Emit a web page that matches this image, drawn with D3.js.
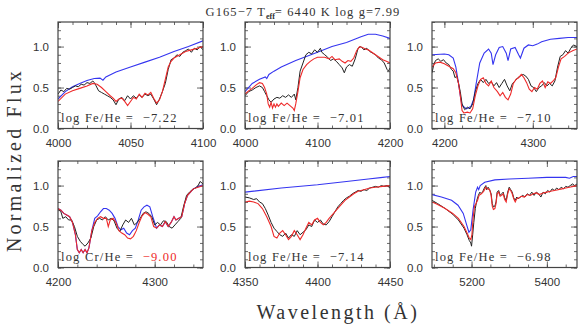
<!DOCTYPE html>
<html>
<head>
<meta charset="utf-8">
<script src="https://cdn.jsdelivr.net/npm/d3@7"></script>
<style>
body { margin: 0; background: #fff; }
svg { display: block; }
.tick text { font-family: "Liberation Sans", Arial, sans-serif; font-size: 11.5px; fill: #333; }
</style>
</head>
<body>
<svg width="580" height="326"></svg>
<script>
// observed (black), fitted model (red), model without metals (blue): [wavelength, flux]
var p1Obs = [[4000,0.42],[4002,0.47],[4004,0.45],[4006,0.49],[4008,0.48],[4010,0.50],[4012,0.52],[4014,0.51],[4016,0.54],[4018,0.53],[4020,0.56],[4022,0.55],[4024,0.58],[4025,0.56],[4026,0.53],[4028,0.46],[4030,0.44],[4032,0.42],[4034,0.40],[4036,0.38],[4038,0.35],[4040,0.29],[4042,0.36],[4044,0.38],[4046,0.34],[4048,0.40],[4050,0.36],[4052,0.40],[4054,0.37],[4056,0.41],[4058,0.38],[4060,0.42],[4062,0.40],[4064,0.42],[4066,0.36],[4068,0.29],[4070,0.36],[4072,0.45],[4074,0.55],[4076,0.72],[4078,0.84],[4080,0.86],[4082,0.90],[4084,0.88],[4086,0.93],[4088,0.95],[4090,0.97],[4092,0.93],[4094,0.98],[4096,0.96],[4098,1.00],[4100,0.96]];
var p1Fit = [[4000,0.33],[4005,0.42],[4010,0.46],[4015,0.49],[4020,0.52],[4024,0.55],[4027,0.54],[4030,0.50],[4033,0.45],[4036,0.40],[4038,0.37],[4040,0.33],[4042,0.36],[4044,0.37],[4046,0.33],[4048,0.28],[4050,0.33],[4052,0.38],[4054,0.36],[4056,0.42],[4058,0.38],[4060,0.43],[4062,0.41],[4064,0.44],[4066,0.37],[4068,0.31],[4070,0.35],[4072,0.45],[4074,0.60],[4076,0.75],[4078,0.82],[4080,0.86],[4084,0.90],[4088,0.94],[4092,0.96],[4096,0.98],[4100,1.00]];
var p1Bare = [[4000,0.36],[4005,0.45],[4010,0.51],[4015,0.55],[4020,0.585],[4025,0.61],[4029,0.615],[4031,0.59],[4033,0.63],[4040,0.69],[4050,0.75],[4060,0.81],[4070,0.87],[4080,0.94],[4090,1.00],[4100,1.07]];

var p2Obs = [[4000,0.40],[4005,0.45],[4010,0.47],[4015,0.50],[4020,0.52],[4024,0.50],[4027,0.45],[4030,0.40],[4033,0.35],[4036,0.32],[4040,0.36],[4044,0.38],[4048,0.37],[4052,0.40],[4056,0.38],[4060,0.41],[4064,0.38],[4068,0.42],[4070,0.35],[4073,0.50],[4076,0.70],[4080,0.80],[4084,0.90],[4088,0.93],[4092,0.91],[4096,0.96],[4100,0.93],[4104,0.98],[4106,0.93],[4110,0.90],[4114,0.87],[4118,0.83],[4122,0.85],[4126,0.82],[4130,0.78],[4134,0.74],[4137,0.68],[4140,0.75],[4144,0.78],[4148,0.76],[4152,0.85],[4156,0.98],[4160,1.00],[4164,0.96],[4168,0.98],[4172,0.94],[4176,0.92],[4180,0.90],[4184,0.86],[4188,0.84],[4192,0.80],[4196,0.72],[4198,0.70],[4200,0.74]];
var p2Fit = [[4000,0.42],[4005,0.46],[4010,0.49],[4015,0.53],[4020,0.56],[4024,0.55],[4027,0.50],[4030,0.42],[4032,0.30],[4034,0.26],[4036,0.32],[4038,0.25],[4040,0.30],[4042,0.26],[4044,0.30],[4046,0.27],[4050,0.31],[4054,0.28],[4058,0.31],[4062,0.28],[4066,0.25],[4068,0.22],[4070,0.30],[4073,0.45],[4076,0.62],[4080,0.72],[4085,0.78],[4090,0.82],[4095,0.85],[4100,0.87],[4110,0.87],[4116,0.85],[4120,0.88],[4124,0.84],[4130,0.85],[4134,0.82],[4138,0.80],[4142,0.83],[4146,0.82],[4150,0.86],[4154,0.95],[4158,1.00],[4162,0.99],[4166,0.97],[4170,0.96],[4175,0.93],[4180,0.90],[4185,0.87],[4190,0.84],[4195,0.82],[4200,0.80]];
var p2Bare = [[4000,0.45],[4010,0.55],[4020,0.60],[4028,0.63],[4030,0.61],[4033,0.66],[4040,0.70],[4050,0.75],[4070,0.83],[4100,0.93],[4120,1.00],[4140,1.05],[4160,1.12],[4170,1.15],[4180,1.15],[4190,1.13],[4200,1.10]];

var p3Obs = [[4186,0.68],[4188,0.78],[4190,0.83],[4193,0.85],[4196,0.82],[4199,0.84],[4202,0.80],[4205,0.78],[4208,0.72],[4210,0.70],[4212,0.62],[4214,0.64],[4216,0.55],[4218,0.45],[4220,0.30],[4223,0.23],[4226,0.26],[4229,0.24],[4232,0.30],[4235,0.45],[4238,0.55],[4241,0.60],[4244,0.56],[4247,0.60],[4250,0.55],[4253,0.57],[4256,0.52],[4259,0.56],[4262,0.50],[4265,0.55],[4268,0.60],[4271,0.52],[4274,0.46],[4277,0.55],[4280,0.58],[4283,0.62],[4286,0.64],[4289,0.66],[4292,0.64],[4295,0.60],[4298,0.52],[4301,0.50],[4304,0.45],[4307,0.50],[4310,0.52],[4313,0.56],[4316,0.52],[4319,0.55],[4322,0.52],[4325,0.58],[4328,0.75],[4331,0.88],[4334,0.90],[4337,0.95],[4340,0.92],[4343,0.98],[4346,1.02],[4350,1.00]];
var p3Fit = [[4186,0.75],[4190,0.80],[4195,0.81],[4200,0.79],[4205,0.76],[4210,0.73],[4213,0.68],[4216,0.55],[4218,0.40],[4220,0.22],[4222,0.19],[4226,0.20],[4229,0.19],[4232,0.24],[4235,0.40],[4238,0.52],[4241,0.60],[4244,0.62],[4247,0.55],[4250,0.52],[4253,0.58],[4256,0.50],[4260,0.45],[4263,0.40],[4266,0.44],[4269,0.38],[4272,0.35],[4275,0.42],[4278,0.55],[4281,0.60],[4284,0.62],[4287,0.66],[4290,0.62],[4293,0.56],[4296,0.48],[4299,0.45],[4302,0.50],[4305,0.48],[4308,0.55],[4311,0.58],[4314,0.50],[4317,0.57],[4320,0.55],[4323,0.58],[4326,0.62],[4329,0.75],[4332,0.85],[4336,0.88],[4340,0.92],[4345,0.95],[4350,0.97]];
var p3Bare = [[4186,0.90],[4200,0.91],[4205,0.90],[4210,0.86],[4213,0.75],[4216,0.55],[4218,0.40],[4220,0.28],[4225,0.24],[4230,0.27],[4233,0.35],[4236,0.55],[4240,0.80],[4245,0.92],[4250,0.97],[4253,0.92],[4255,0.78],[4258,0.90],[4262,0.99],[4266,1.00],[4270,0.92],[4272,0.83],[4275,0.97],[4280,0.99],[4284,0.90],[4286,0.86],[4290,0.98],[4295,1.02],[4300,1.01],[4305,1.03],[4310,1.06],[4320,1.09],[4330,1.10],[4340,1.11],[4350,1.11]];

var p4Obs = [[4200,0.72],[4203,0.68],[4205,0.60],[4208,0.62],[4211,0.58],[4214,0.58],[4217,0.50],[4220,0.38],[4223,0.32],[4226,0.28],[4228,0.26],[4231,0.30],[4234,0.36],[4237,0.50],[4240,0.58],[4243,0.60],[4246,0.58],[4249,0.62],[4252,0.58],[4255,0.60],[4258,0.57],[4261,0.48],[4264,0.44],[4267,0.52],[4270,0.58],[4273,0.55],[4276,0.60],[4279,0.52],[4282,0.55],[4285,0.60],[4288,0.66],[4291,0.68],[4294,0.66],[4297,0.62],[4300,0.52],[4303,0.55],[4306,0.52],[4309,0.57],[4312,0.56],[4315,0.50],[4318,0.48],[4321,0.52],[4324,0.56],[4327,0.60],[4330,0.75],[4333,0.88],[4336,0.92],[4339,0.95],[4342,0.97],[4345,1.00],[4347,1.05],[4350,1.02]];
var p4Fit = [[4200,0.72],[4203,0.70],[4206,0.66],[4209,0.64],[4212,0.62],[4215,0.55],[4218,0.40],[4220,0.22],[4222,0.18],[4224,0.22],[4226,0.18],[4228,0.22],[4230,0.18],[4232,0.24],[4235,0.45],[4238,0.55],[4241,0.60],[4244,0.62],[4247,0.60],[4250,0.60],[4252,0.50],[4254,0.58],[4257,0.60],[4260,0.55],[4263,0.45],[4266,0.42],[4269,0.40],[4272,0.36],[4275,0.35],[4278,0.38],[4281,0.45],[4284,0.55],[4287,0.63],[4290,0.67],[4293,0.65],[4296,0.62],[4299,0.50],[4302,0.48],[4305,0.52],[4308,0.50],[4311,0.56],[4314,0.50],[4317,0.55],[4320,0.62],[4322,0.58],[4325,0.60],[4328,0.62],[4331,0.78],[4334,0.88],[4337,0.92],[4340,0.96],[4345,0.98],[4350,1.00]];
var p4Bare = [[4200,0.72],[4203,0.70],[4206,0.66],[4209,0.64],[4212,0.62],[4215,0.55],[4218,0.40],[4220,0.22],[4222,0.18],[4224,0.22],[4226,0.18],[4228,0.22],[4230,0.18],[4232,0.24],[4235,0.45],[4238,0.60],[4241,0.63],[4244,0.68],[4247,0.72],[4250,0.72],[4253,0.70],[4256,0.66],[4259,0.60],[4262,0.50],[4265,0.46],[4268,0.48],[4271,0.42],[4274,0.40],[4277,0.45],[4280,0.48],[4283,0.58],[4286,0.70],[4289,0.74],[4292,0.76],[4295,0.74],[4298,0.62],[4302,0.48],[4305,0.52],[4308,0.50],[4311,0.56],[4314,0.50],[4317,0.55],[4320,0.62],[4322,0.58],[4325,0.60],[4328,0.62],[4331,0.78],[4334,0.88],[4337,0.92],[4340,0.96],[4345,0.99],[4350,1.01]];

var p5Obs = [[4350,0.86],[4353,0.85],[4356,0.83],[4358,0.84],[4360,0.80],[4362,0.78],[4364,0.72],[4366,0.64],[4368,0.55],[4370,0.48],[4372,0.44],[4374,0.40],[4376,0.38],[4378,0.42],[4380,0.36],[4382,0.40],[4384,0.38],[4386,0.45],[4388,0.40],[4390,0.43],[4392,0.46],[4394,0.52],[4396,0.50],[4398,0.58],[4400,0.55],[4402,0.58],[4404,0.53],[4406,0.52],[4408,0.56],[4410,0.62],[4412,0.68],[4414,0.74],[4416,0.78],[4418,0.82],[4420,0.85],[4422,0.87],[4424,0.90],[4426,0.92],[4428,0.94],[4430,0.93],[4432,0.95],[4434,0.94],[4436,0.97],[4438,0.98],[4440,0.99],[4442,0.98],[4444,1.00],[4446,0.99],[4448,1.00],[4450,0.97]];
var p5Fit = [[4350,0.80],[4353,0.81],[4356,0.80],[4359,0.78],[4362,0.72],[4365,0.62],[4368,0.50],[4370,0.38],[4372,0.36],[4374,0.42],[4376,0.45],[4378,0.40],[4380,0.34],[4382,0.38],[4384,0.45],[4386,0.40],[4388,0.34],[4390,0.40],[4392,0.48],[4394,0.55],[4396,0.52],[4398,0.58],[4400,0.60],[4402,0.55],[4404,0.52],[4406,0.55],[4408,0.60],[4410,0.64],[4413,0.70],[4416,0.76],[4419,0.82],[4422,0.86],[4425,0.90],[4428,0.93],[4432,0.95],[4436,0.97],[4440,0.98],[4445,0.99],[4450,1.00]];
var p5Bare = [[4350,0.92],[4375,0.97],[4400,1.01],[4420,1.05],[4435,1.08],[4445,1.10],[4450,1.11]];

var p6Obs = [[5095,0.82],[5110,0.78],[5130,0.72],[5150,0.65],[5165,0.58],[5180,0.48],[5188,0.40],[5194,0.33],[5198,0.30],[5200,0.26],[5203,0.40],[5206,0.55],[5210,0.72],[5214,0.82],[5218,0.88],[5222,0.92],[5226,0.90],[5230,0.93],[5234,0.97],[5238,1.00],[5240,0.95],[5244,0.98],[5248,0.95],[5252,0.90],[5255,0.78],[5258,0.74],[5262,0.75],[5265,0.80],[5268,0.92],[5272,0.94],[5276,0.88],[5280,0.90],[5284,0.92],[5288,0.85],[5292,0.82],[5296,0.92],[5300,0.98],[5304,0.95],[5308,0.92],[5312,0.85],[5316,0.82],[5320,0.86],[5324,0.84],[5330,0.86],[5336,0.88],[5342,0.86],[5348,0.90],[5354,0.88],[5360,0.92],[5366,0.88],[5372,0.92],[5378,0.90],[5384,0.86],[5390,0.92],[5396,0.90],[5402,0.94],[5408,0.92],[5414,0.96],[5420,0.94],[5426,0.97],[5432,0.95],[5438,0.98],[5444,0.96],[5450,0.99],[5456,0.98],[5462,1.00],[5468,1.02],[5474,1.00],[5480,1.02]];
var p6Fit = [[5095,0.80],[5110,0.77],[5130,0.72],[5150,0.66],[5165,0.60],[5180,0.50],[5188,0.42],[5194,0.36],[5198,0.34],[5201,0.40],[5204,0.60],[5208,0.75],[5212,0.78],[5216,0.82],[5220,0.88],[5226,0.90],[5232,0.93],[5238,0.98],[5242,0.96],[5248,0.95],[5252,0.88],[5255,0.75],[5258,0.71],[5262,0.72],[5265,0.78],[5268,0.90],[5272,0.92],[5276,0.87],[5280,0.88],[5284,0.90],[5288,0.83],[5292,0.80],[5296,0.90],[5300,0.96],[5304,0.94],[5308,0.90],[5312,0.84],[5316,0.80],[5320,0.84],[5326,0.85],[5332,0.87],[5340,0.86],[5348,0.89],[5356,0.88],[5364,0.90],[5372,0.91],[5380,0.89],[5390,0.91],[5400,0.92],[5410,0.93],[5420,0.94],[5430,0.95],[5440,0.96],[5450,0.97],[5460,0.98],[5470,0.99],[5480,1.00]];
var p6Bare = [[5095,0.89],[5120,0.86],[5147,0.82],[5164,0.76],[5178,0.66],[5187,0.52],[5193,0.43],[5198,0.46],[5204,0.70],[5211,0.92],[5216,0.98],[5219,0.95],[5223,1.00],[5235,1.04],[5262,1.07],[5300,1.08],[5350,1.09],[5400,1.10],[5450,1.10],[5460,1.09],[5470,1.11],[5480,1.11]];

var xDomains = [[4000,4100],[4000,4200],[4186,4350],[4200,4350],[4350,4450],[5095,5480]];
var xMajor = [[4000,4050,4100],[4000,4100,4200],[4200,4300],[4200,4300],[4350,4400,4450],[5200,5400]];
var xMinorStep = [10,20,20,20,10,50];
var labelElem = ["Fe","Fe","Fe","Cr","Fe","Fe"];
var labelVal = ["\u22127.22","\u22127.01","\u22127.10","\u22129.00","\u22127.14","\u22126.98"];
var yMajor = [0,0.5,1.0];
var yMinor = d3.range(0,1.31,0.1);

var obs = [p1Obs,p2Obs,p3Obs,p4Obs,p5Obs,p6Obs];
var fit = [p1Fit,p2Fit,p3Fit,p4Fit,p5Fit,p6Fit];
var bare = [p1Bare,p2Bare,p3Bare,p4Bare,p5Bare,p6Bare];

var serif = "'Liberation Serif', 'DejaVu Serif', serif";
var svg = d3.select("svg");
var colX = [58,245,432], rowY = [22,161], pw = 145, ph = 106.5;

for (var i = 0; i < 6; i++) {
    var g = svg.append("g")
        .attr("transform", "translate(" + colX[i%3] + "," + rowY[Math.floor(i/3)] + ")");

    var x = d3.scaleLinear().domain(xDomains[i]).range([0,pw]);
    var y = d3.scaleLinear().domain([0,1.3]).range([ph,0]);

    var minorX = d3.range(Math.ceil(xDomains[i][0]/xMinorStep[i])*xMinorStep[i], xDomains[i][1]+0.01, xMinorStep[i]);

    // ticks point inwards on all four sides
    g.append("g").attr("transform","translate(0,"+ph+")")
        .call(d3.axisBottom(x).tickValues(minorX).tickSize(-3).tickFormat(""));
    g.append("g").attr("transform","translate(0,"+ph+")")
        .call(d3.axisBottom(x).tickValues(xMajor[i]).tickSize(-6).tickPadding(10).tickFormat(d3.format("d")));
    g.append("g").call(d3.axisTop(x).tickValues(minorX).tickSize(-3).tickFormat(""));
    g.append("g").call(d3.axisTop(x).tickValues(xMajor[i]).tickSize(-6).tickFormat(""));
    g.append("g").call(d3.axisLeft(y).tickValues(yMinor).tickSize(-3).tickFormat(""));
    g.append("g").call(d3.axisLeft(y).tickValues(yMajor).tickSize(-6).tickPadding(9).tickFormat(d3.format(".1f")));
    g.append("g").attr("transform","translate("+pw+",0)")
        .call(d3.axisRight(y).tickValues(yMinor).tickSize(-3).tickFormat(""));
    g.append("g").attr("transform","translate("+pw+",0)")
        .call(d3.axisRight(y).tickValues(yMajor).tickSize(-6).tickFormat(""));
    g.selectAll(".domain").remove();
    g.selectAll(".tick line").attr("stroke","#444").attr("stroke-width",0.8);

    g.append("clipPath").attr("id","clip"+i)
        .append("rect").attr("width",pw).attr("height",ph);

    var line = d3.line().x(function(d){return x(d[0]);}).y(function(d){return y(d[1]);});
    var plot = g.append("g").attr("clip-path","url(#clip"+i+")");
    plot.append("path").datum(bare[i]).attr("d",line)
        .attr("fill","none").attr("stroke","#3535f0").attr("stroke-width",1.1);
    plot.append("path").datum(obs[i]).attr("d",line)
        .attr("fill","none").attr("stroke","#222").attr("stroke-width",1);
    plot.append("path").datum(fit[i]).attr("d",line)
        .attr("fill","none").attr("stroke","#ee2a2a").attr("stroke-width",1.1);

    g.append("rect").attr("width",pw).attr("height",ph)
        .attr("fill","none").attr("stroke","#444").attr("stroke-width",1.2);

    var t = g.append("text").attr("x",3).attr("y",ph-7)
        .style("font-family",serif).style("font-size","12.5px")
        .attr("fill","#333").attr("letter-spacing","1.2px");
    t.append("tspan").attr("xml:space","preserve").text("log " + labelElem[i] + "/He =  ");
    t.append("tspan").attr("fill", labelElem[i] == "Cr" ? "#ee2a2a" : "#333").text(labelVal[i]);
}

// title
var title = svg.append("text").attr("x",303).attr("y",16).attr("text-anchor","middle")
    .style("font-family",serif).style("font-size","12.5px")
    .attr("fill","#333").attr("letter-spacing","1.1px");
title.append("tspan").text("G165\u22127 T");
title.append("tspan").attr("dy",3).style("font-size","8px").style("font-weight","bold").attr("letter-spacing","0px").text("eff");
title.append("tspan").attr("dy",-3).text("= 6440 K log g=7.99");

svg.append("text")
    .attr("transform","translate(21,160) rotate(-90)")
    .attr("text-anchor","middle")
    .style("font-family",serif).style("font-size","20px")
    .attr("letter-spacing","3.2px").attr("fill","#333")
    .text("Normalized Flux");

svg.append("text")
    .attr("x",338).attr("y",319).attr("text-anchor","middle")
    .style("font-family",serif).style("font-size","20px")
    .attr("letter-spacing","2.5px").attr("fill","#333")
    .text("Wavelength (\u00c5)");
</script>
</body>
</html>
